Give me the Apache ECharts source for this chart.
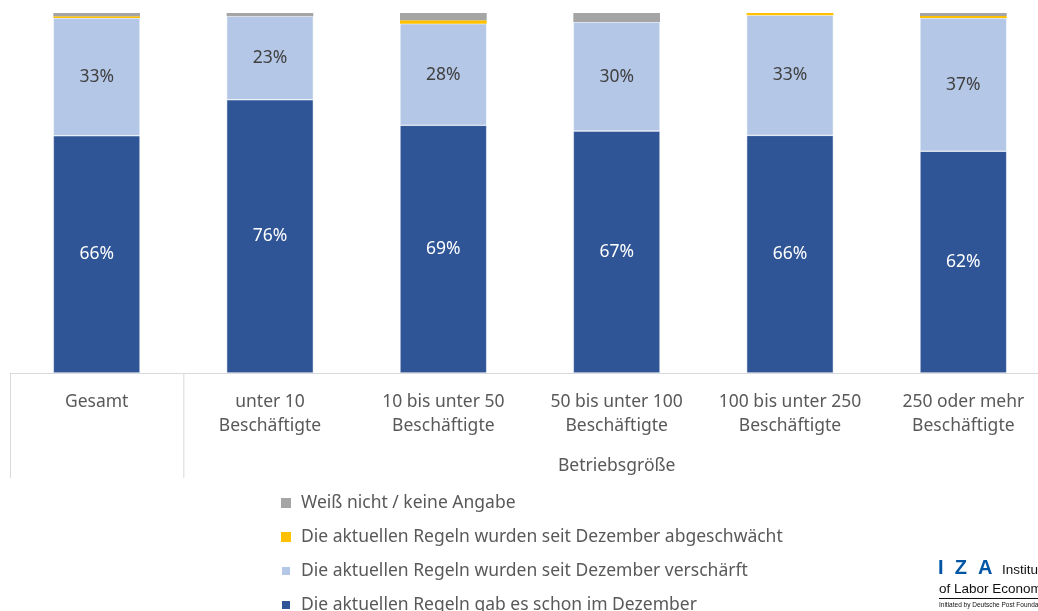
<!DOCTYPE html>
<html>
<head>
<meta charset="utf-8">
<script src="https://cdn.jsdelivr.net/npm/echarts@6/dist/echarts.min.js"></script>
<style>
  html, body { margin: 0; padding: 0; background: #fff; overflow: hidden; }
  #chart { width: 1050px; height: 660px; }
</style>
</head>
<body>
<div id="chart"></div>
<script>
const categories = ['Gesamt', 'unter 10\nBeschäftigte', '10 bis unter 50\nBeschäftigte',
  '50 bis unter 100\nBeschäftigte', '100 bis unter 250\nBeschäftigte', '250 oder mehr\nBeschäftigte']
const schonImDezember = [65.9, 75.9, 68.8, 67.2, 66.0, 61.6]
const verschaerft = [32.7, 23.2, 28.2, 30.3, 33.4, 37.0]
const abgeschwaecht = [0.5, 0, 1.0, 0, 0.6, 0.6]
const weissNicht = [0.9, 0.9, 2.0, 2.5, 0, 0.8]
const seriesNames = [
  'Die aktuellen Regeln gab es schon im Dezember',
  'Die aktuellen Regeln wurden seit Dezember verschärft',
  'Die aktuellen Regeln wurden seit Dezember abgeschwächt',
  'Weiß nicht / keine Angabe',
]
const groupTitle = 'Betriebsgröße'

const font = 'Noto Sans'
const textGray = '#595959'

const chart = echarts.init(document.getElementById('chart'))

const pct = (p) => Math.round(p.value) + '%'

const GRID_LEFT = 10
const GRID_TOP = 13
const GRID_W = 1040
const GRID_H = 360
const step = GRID_W / categories.length

const option = {
  animation: false,
  textStyle: { fontFamily: font },
  grid: { left: GRID_LEFT, top: GRID_TOP, width: GRID_W, height: GRID_H },
  xAxis: {
    type: 'category',
    data: categories,
    axisLine: { lineStyle: { color: '#d9d9d9', width: 1 } },
    axisTick: { show: false },
    axisLabel: { interval: 0, color: textGray, fontSize: 17.5, lineHeight: 24, margin: 17, fontFamily: font },
  },
  yAxis: { type: 'value', min: 0, max: 100, show: false },
  legend: {
    orient: 'vertical',
    left: 280,
    top: 494,
    padding: 0,
    itemWidth: 10,
    itemHeight: 10,
    itemGap: 16,
    icon: 'rect',
    data: [seriesNames[3], seriesNames[2], seriesNames[1], seriesNames[0]],
    textStyle: { color: textGray, fontSize: 17.5, fontFamily: font, padding: [0, 0, 0, 5] },
  },
  series: [
    {
      name: seriesNames[0], type: 'bar', stack: 'all', barWidth: '50%', data: schonImDezember,
      itemStyle: { color: '#2F5597', borderColor: '#fff', borderWidth: 0.5 },
      label: { show: true, position: 'inside', color: '#fff', fontSize: 17.5, fontFamily: font, formatter: pct },
    },
    {
      name: seriesNames[1], type: 'bar', stack: 'all', data: verschaerft,
      itemStyle: { color: '#B4C7E7', borderColor: '#fff', borderWidth: 0.5 },
      label: { show: true, position: 'inside', color: '#404040', fontSize: 17.5, fontFamily: font, formatter: pct },
    },
    {
      name: seriesNames[2], type: 'bar', stack: 'all', data: abgeschwaecht,
      itemStyle: { color: '#FFC000' },
    },
    {
      name: seriesNames[3], type: 'bar', stack: 'all', data: weissNicht,
      itemStyle: { color: '#A5A5A5' },
    },
  ],
  graphic: [
    { type: 'line', shape: { x1: GRID_LEFT + 0.5, y1: GRID_TOP + GRID_H, x2: GRID_LEFT + 0.5, y2: 478 },
      style: { stroke: '#d9d9d9', lineWidth: 1 } },
    { type: 'line', shape: { x1: GRID_LEFT + step + 0.5, y1: GRID_TOP + GRID_H, x2: GRID_LEFT + step + 0.5, y2: 478 },
      style: { stroke: '#d9d9d9', lineWidth: 1 } },
    { type: 'text', x: GRID_LEFT + step * 3.5, y: 466,
      style: { text: groupTitle, fill: textGray, font: '17.5px "Noto Sans"', align: 'center', verticalAlign: 'middle' } },
    // IZA logo
    { type: 'text', x: 938, y: 568,
      style: { text: 'I  Z  A', fill: '#0055a5', font: 'bold 20px "Liberation Sans"', verticalAlign: 'middle' } },
    { type: 'text', x: 1002, y: 570,
      style: { text: 'Institute', fill: '#111', font: '13.5px "Liberation Sans"', verticalAlign: 'middle' } },
    { type: 'text', x: 939, y: 589,
      style: { text: 'of Labor Economics', fill: '#111', font: '13.5px "Liberation Sans"', verticalAlign: 'middle' } },
    { type: 'line', shape: { x1: 939, y1: 598.5, x2: 1050, y2: 598.5 }, style: { stroke: '#111', lineWidth: 1 } },
    { type: 'text', x: 939, y: 605,
      style: { text: 'Initiated by Deutsche Post Foundation', fill: '#111', font: '6.5px "Liberation Sans"', verticalAlign: 'middle' } },
  ],
}

chart.setOption(option)
window.addEventListener('resize', () => chart.resize())
</script>
</body>
</html>
